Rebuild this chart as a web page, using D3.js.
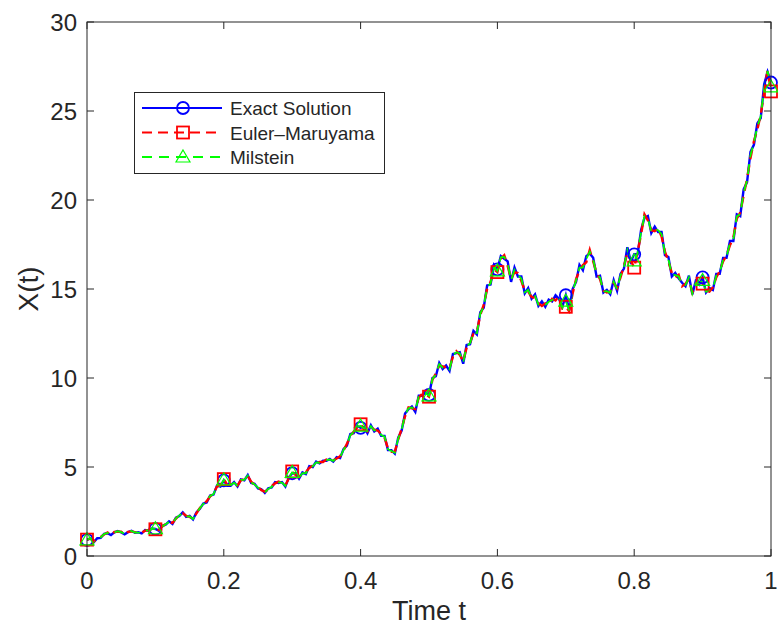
<!DOCTYPE html>
<html>
<head>
<meta charset="utf-8">
<script src="https://cdn.jsdelivr.net/npm/d3@7"></script>
<style>
  body { margin: 0; background: #fff; }
  text { font-family: "Liberation Sans", Arial, sans-serif; fill: #262626; }
</style>
</head>
<body>
<div id="chart"></div>
<script>
var width = 778,
  height = 628;

// sample paths, step dt = 0.005 from t = 0 to t = 1
var exact = [
  0.90, 1.00, 0.78, 1.00, 1.02, 1.25, 1.28, 1.18, 1.33, 1.40,
  1.32, 1.22, 1.34, 1.42, 1.30, 1.33, 1.27, 1.46, 1.42, 1.55,
  1.52, 1.42, 1.70, 1.76, 1.95, 1.80, 2.15, 2.25, 2.45, 2.20,
  2.25, 2.05, 2.45, 2.65, 2.95, 3.00, 3.40, 3.45, 3.95, 3.90,
  4.25, 3.95, 3.95, 4.15, 3.90, 4.30, 4.25, 4.55, 4.10, 4.05,
  3.80, 3.75, 3.55, 3.80, 3.85, 4.15, 4.10, 4.15, 3.90, 4.40,
  4.65, 4.65, 4.35, 4.70, 4.60, 5.05, 5.00, 5.30, 5.20, 5.35,
  5.35, 5.45, 5.30, 5.55, 5.50, 6.00, 6.20, 6.85, 6.90, 7.30,
  7.20, 7.25, 6.90, 7.35, 7.00, 7.15, 6.75, 6.75, 5.95, 5.95,
  5.75, 6.65, 7.05, 8.00, 8.25, 8.40, 8.10, 9.00, 9.00, 9.20,
  9.05, 10.00, 10.10, 10.85, 10.50, 10.70, 10.40, 11.35, 11.40, 11.45,
  10.80, 11.85, 11.90, 12.65, 12.45, 13.70, 13.95, 15.20, 15.25, 16.35,
  16.10, 16.85, 16.70, 16.55, 15.40, 16.20, 15.70, 15.70, 14.75, 15.05,
  14.45, 14.70, 14.05, 14.30, 14.00, 14.40, 14.30, 14.65, 14.45, 14.00,
  14.65, 13.80, 15.00, 15.40, 16.35, 16.05, 16.85, 17.00, 16.75, 15.70,
  15.75, 14.80, 14.95, 14.70, 15.50, 14.90, 15.85, 16.15, 17.35, 16.55,
  16.95, 16.95, 18.30, 19.00, 19.10, 18.15, 18.50, 18.20, 18.20, 16.90,
  16.80, 15.70, 15.90, 15.60, 15.35, 15.15, 15.75, 14.70, 15.45, 15.25,
  15.65, 14.80, 15.05, 14.95, 15.85, 15.85, 16.75, 16.75, 17.70, 17.70,
  19.20, 19.10, 20.60, 21.00, 22.70, 23.10, 24.30, 24.60, 26.50, 27.20,
  26.60
];

var euler = [
  0.92, 0.98, 0.82, 0.96, 1.07, 1.21, 1.32, 1.16, 1.35, 1.37,
  1.36, 1.20, 1.36, 1.38, 1.34, 1.29, 1.31, 1.42, 1.46, 1.52,
  1.50, 1.46, 1.66, 1.80, 1.90, 1.86, 2.10, 2.30, 2.40, 2.26,
  2.20, 2.10, 2.40, 2.70, 2.90, 3.08, 3.35, 3.52, 3.90, 3.98,
  4.32, 4.00, 4.02, 4.10, 3.96, 4.25, 4.32, 4.50, 4.18, 4.00,
  3.88, 3.70, 3.62, 3.74, 3.92, 4.08, 4.18, 4.10, 3.98, 4.35,
  4.75, 4.55, 4.45, 4.62, 4.70, 4.95, 5.08, 5.22, 5.28, 5.28,
  5.42, 5.38, 5.38, 5.48, 5.60, 5.92, 6.30, 6.75, 7.00, 7.22,
  7.40, 7.12, 7.00, 7.25, 7.10, 7.05, 6.85, 6.65, 6.05, 5.85,
  5.85, 6.55, 7.15, 7.85, 8.35, 8.30, 8.25, 8.90, 9.10, 9.10,
  8.95, 9.90, 10.25, 10.70, 10.65, 10.60, 10.55, 11.20, 11.50, 11.30,
  10.95, 11.70, 12.00, 12.50, 12.60, 13.55, 14.10, 15.00, 15.40, 16.10,
  15.95, 16.70, 16.90, 16.30, 15.55, 15.95, 15.90, 15.45, 14.90, 14.85,
  14.55, 14.50, 14.20, 14.05, 14.20, 14.15, 14.45, 14.35, 14.60, 13.90,
  14.00, 13.75, 14.75, 15.55, 16.05, 16.35, 16.50, 17.20, 16.55, 15.90,
  15.55, 14.90, 14.80, 14.85, 15.35, 15.05, 15.65, 16.30, 17.00, 16.60,
  16.20, 17.10, 18.05, 19.20, 18.85, 18.30, 18.25, 18.40, 17.95, 17.10,
  16.55, 15.90, 15.65, 15.80, 15.15, 15.30, 15.55, 14.80, 15.25, 15.40,
  15.30, 14.90, 14.85, 15.10, 15.65, 16.00, 16.55, 16.90, 17.45, 17.90,
  18.95, 19.30, 20.25, 21.20, 22.35, 23.30, 23.95, 24.80, 26.05, 27.30,
  26.10
];

var milstein = [
  0.91, 1.02, 0.80, 0.98, 1.04, 1.23, 1.30, 1.20, 1.32, 1.39,
  1.34, 1.24, 1.32, 1.41, 1.32, 1.31, 1.29, 1.44, 1.44, 1.54,
  1.53, 1.44, 1.68, 1.78, 1.92, 1.83, 2.12, 2.28, 2.42, 2.23,
  2.22, 2.08, 2.42, 2.68, 2.92, 3.05, 3.38, 3.48, 3.92, 3.94,
  4.28, 3.98, 3.98, 4.12, 3.93, 4.28, 4.28, 4.52, 4.14, 4.02,
  3.84, 3.72, 3.58, 3.77, 3.88, 4.12, 4.14, 4.12, 3.94, 4.38,
  4.70, 4.60, 4.40, 4.66, 4.65, 5.00, 5.04, 5.26, 5.24, 5.32,
  5.38, 5.42, 5.34, 5.52, 5.55, 5.96, 6.25, 6.80, 6.95, 7.26,
  7.30, 7.18, 6.95, 7.30, 7.05, 7.10, 6.80, 6.70, 6.00, 5.90,
  5.80, 6.60, 7.10, 7.92, 8.30, 8.35, 8.18, 8.95, 9.05, 9.15,
  9.00, 9.95, 10.18, 10.78, 10.58, 10.65, 10.48, 11.28, 11.45, 11.38,
  10.88, 11.78, 11.95, 12.58, 12.52, 13.62, 14.02, 15.10, 15.32, 16.22,
  16.02, 16.78, 16.80, 16.42, 15.48, 16.08, 15.80, 15.58, 14.82, 14.95,
  14.50, 14.60, 14.12, 14.18, 14.10, 14.28, 14.38, 14.50, 14.52, 13.95,
  14.32, 13.78, 14.88, 15.48, 16.20, 16.20, 16.68, 17.10, 16.65, 15.80,
  15.65, 14.85, 14.88, 14.78, 15.42, 14.98, 15.75, 16.22, 17.18, 16.58,
  16.58, 17.02, 18.18, 19.10, 18.98, 18.22, 18.38, 18.30, 18.08, 17.00,
  16.68, 15.80, 15.78, 15.70, 15.25, 15.22, 15.65, 14.75, 15.35, 15.32,
  15.48, 14.85, 14.95, 15.02, 15.75, 15.92, 16.65, 16.82, 17.58, 17.80,
  19.08, 19.20, 20.42, 21.10, 22.52, 23.20, 24.12, 24.70, 26.28, 27.25,
  26.35
];

var dt = 0.005;
var markerEvery = 20; // a marker every 0.1
var xTicks = [0, 0.2, 0.4, 0.6, 0.8, 1];
var yTicks = [0, 5, 10, 15, 20, 25, 30];
var names = ['Exact Solution', 'Euler\u2013Maruyama', 'Milstein'];

var margin = {top: 22, right: 7, bottom: 72, left: 87};
var w = width - margin.left - margin.right,
  h = height - margin.top - margin.bottom;

var svg = d3.select('#chart')
  .append('svg')
  .attr('width', width)
  .attr('height', height);

var x = d3.scaleLinear().domain([0, 1]).range([margin.left, margin.left + w]);
var y = d3.scaleLinear().domain([0, 30]).range([margin.top + h, margin.top]);

var series = [
  {name: names[0], vals: exact, color: '#0000ff', width: 2.4, dash: null, marker: 'circle'},
  {name: names[1], vals: euler, color: '#ff0000', width: 2.4, dash: '10,6', marker: 'square'},
  {name: names[2], vals: milstein, color: '#00ff00', width: 1.8, dash: '10,7', marker: 'triangle'}
];

function drawMarker(g, type, cx, cy, color) {
  if (type == 'circle') {
    g.append('circle').attr('cx', cx).attr('cy', cy).attr('r', 6)
      .attr('fill', 'none').attr('stroke', color).attr('stroke-width', 1.8);
  } else if (type == 'square') {
    g.append('rect').attr('x', cx - 6).attr('y', cy - 6).attr('width', 12).attr('height', 12)
      .attr('fill', 'none').attr('stroke', color).attr('stroke-width', 1.8);
  } else {
    g.append('path')
      .attr('d', 'M' + cx + ',' + (cy - 7) + 'L' + (cx + 7) + ',' + (cy + 5) + 'L' + (cx - 7) + ',' + (cy + 5) + 'Z')
      .attr('fill', 'none').attr('stroke', color).attr('stroke-width', 1.2);
  }
}

// clip to the axes box
svg.append('clipPath').attr('id', 'clip')
  .append('rect').attr('x', margin.left).attr('y', margin.top).attr('width', w).attr('height', h);

var plot = svg.append('g').attr('clip-path', 'url(#clip)');

series.forEach(function(s) {
  var line = d3.line()
    .x(function(d, i) { return x(i * dt); })
    .y(function(d) { return y(d); });
  plot.append('path')
    .datum(s.vals)
    .attr('d', line)
    .attr('fill', 'none')
    .attr('stroke', s.color)
    .attr('stroke-width', s.width)
    .attr('stroke-linejoin', 'miter')
    .attr('stroke-dasharray', s.dash);
  var mg = svg.append('g');
  s.vals.forEach(function(v, i) {
    if (i % markerEvery == 0) drawMarker(mg, s.marker, x(i * dt), y(v), s.color);
  });
});

// axes box with inward ticks (MATLAB style)
var axisColor = '#262626';
svg.append('rect')
  .attr('x', margin.left).attr('y', margin.top)
  .attr('width', w).attr('height', h)
  .attr('fill', 'none').attr('stroke', axisColor).attr('stroke-width', 1);

var tl = 7;
xTicks.forEach(function(t) {
  svg.append('line').attr('x1', x(t)).attr('x2', x(t))
    .attr('y1', margin.top + h).attr('y2', margin.top + h - tl)
    .attr('stroke', axisColor);
  svg.append('line').attr('x1', x(t)).attr('x2', x(t))
    .attr('y1', margin.top).attr('y2', margin.top + tl)
    .attr('stroke', axisColor);
  svg.append('text').attr('x', x(t)).attr('y', margin.top + h + 33)
    .attr('text-anchor', 'middle').style('font-size', '24px')
    .text(t);
});
yTicks.forEach(function(t) {
  svg.append('line').attr('x1', margin.left).attr('x2', margin.left + tl)
    .attr('y1', y(t)).attr('y2', y(t)).attr('stroke', axisColor);
  svg.append('line').attr('x1', margin.left + w).attr('x2', margin.left + w - tl)
    .attr('y1', y(t)).attr('y2', y(t)).attr('stroke', axisColor);
  svg.append('text').attr('x', margin.left - 10).attr('y', y(t) + 8.5)
    .attr('text-anchor', 'end').style('font-size', '24px')
    .text(t);
});

svg.append('text').attr('x', x(0.5)).attr('y', 620)
  .attr('text-anchor', 'middle').style('font-size', '27px')
  .text('Time t');
svg.append('text')
  .attr('transform', 'translate(38,' + y(15) + ') rotate(-90)')
  .attr('text-anchor', 'middle').style('font-size', '28px')
  .text('X(t)');

// legend
var lg = svg.append('g');
lg.append('rect').attr('x', 134.5).attr('y', 92.5).attr('width', 250).attr('height', 81)
  .attr('fill', '#fff').attr('stroke', axisColor).attr('stroke-width', 1);
series.forEach(function(s, i) {
  var ly = 108 + i * 24.5;
  lg.append('line').attr('x1', 142).attr('x2', 222).attr('y1', ly).attr('y2', ly)
    .attr('stroke', s.color).attr('stroke-width', Math.min(s.width, 2))
    .attr('stroke-dasharray', s.dash);
  drawMarker(lg, s.marker, 183, ly, s.color);
  lg.append('text').attr('x', 230).attr('y', ly + 7)
    .style('font-size', '19px').text(s.name);
});
</script>
</body>
</html>
